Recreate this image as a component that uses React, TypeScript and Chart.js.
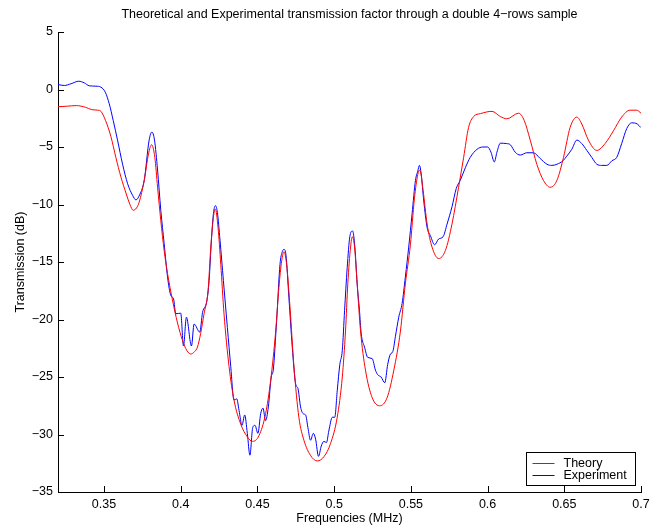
import React, { useEffect, useRef } from "react";
import { Chart, registerables } from "chart.js";
Chart.register(...registerables);

const titleText = "Theoretical and Experimental transmission factor through a double 4\u2212rows sample";
const xAxisTitle = "Frequencies (MHz)";
const yAxisTitle = "Transmission (dB)";
const seriesNames = ["Theory", "Experiment"];
const seriesColors = ["#ff0000", "#0000ff"];

const xTickValues = [0.35, 0.4, 0.45, 0.5, 0.55, 0.6, 0.65, 0.7];
const xTickLabels = ["0.35", "0.4", "0.45", "0.5", "0.55", "0.6", "0.65", "0.7"];
const yTickValues = [5, 0, -5, -10, -15, -20, -25, -30, -35];
const yTickLabels = ["5", "0", "\u22125", "\u221210", "\u221215", "\u221220", "\u221225", "\u221230", "\u221235"];

const theoryFreq = [
  0.32, 0.326, 0.332, 0.338, 0.342, 0.346, 0.348, 0.351, 0.3545, 0.3577, 0.361, 0.3643, 0.3669, 0.369, 0.3712,
  0.3729, 0.3762, 0.379, 0.381, 0.3831, 0.3849, 0.387, 0.3892, 0.3914, 0.3946, 0.3979, 0.4011, 0.404, 0.4065,
  0.409, 0.4109, 0.413, 0.4152, 0.4178, 0.4196, 0.4213, 0.4226, 0.4243, 0.4261, 0.4282, 0.4315, 0.4347, 0.4391,
  0.4434, 0.4467, 0.451, 0.4553, 0.4586, 0.4619, 0.464, 0.4658, 0.4673, 0.469, 0.4712, 0.4738, 0.477, 0.4803,
  0.4845, 0.489, 0.4935, 0.4976, 0.502, 0.5053, 0.5074, 0.5089, 0.5107, 0.5118, 0.5133, 0.515, 0.5172, 0.5204,
  0.5248, 0.5297, 0.5345, 0.5389, 0.5432, 0.5464, 0.5497, 0.5523, 0.5545, 0.5558, 0.558, 0.5606, 0.5638, 0.5681,
  0.5725, 0.5768, 0.5811, 0.5844, 0.5876, 0.5909, 0.5953, 0.6029, 0.6083, 0.6126, 0.6202, 0.6239, 0.6278, 0.6321,
  0.6364, 0.6408, 0.6452, 0.6495, 0.6538, 0.6582, 0.6614, 0.6657, 0.6712, 0.6766, 0.682, 0.6874, 0.6928, 0.6972, 0.7,
];
const theoryDb = [
  -1.5, -1.45, -1.4, -1.55, -1.75, -1.8, -1.9, -2.7, -4.1, -5.9, -7.6, -9.0, -10.0, -10.5, -10.3,
  -9.8, -7.9, -5.6, -4.8, -5.9, -8.5, -11.4, -14.0, -16.0, -18.3, -20.3, -21.8, -22.7, -23.0,
  -22.8, -22.4, -21.2, -19.5, -17.5, -13.7, -11.1, -10.4, -12.0, -15.2, -19.5, -24.1, -27.0, -29.1,
  -30.2, -30.6, -30.1, -28.2, -25.3, -21.0, -17.2, -14.9, -14.1, -15.2, -18.9, -24.1, -28.5, -30.5,
  -31.8, -32.3, -31.9, -30.8, -28.5, -25.0, -21.0, -16.9, -13.7, -12.8, -13.7, -16.9, -21.0, -24.4,
  -26.8, -27.5, -26.8, -24.4, -21.0, -16.9, -13.5, -9.5, -7.4, -7.0, -8.8, -11.7, -13.7, -14.7,
  -14.0, -11.7, -8.5, -5.9, -3.3, -2.35, -2.1, -1.9, -2.35, -2.55, -2.06, -2.7, -4.4, -6.5,
  -7.9, -8.5, -7.9, -5.9, -3.3, -2.4, -3.0, -4.4, -5.3, -4.7, -3.6, -2.4, -1.8, -1.8, -2.06,
];

const expFreq = [
  0.32, 0.3241, 0.3285, 0.3335, 0.3371, 0.3404, 0.3447, 0.348, 0.3508, 0.3534, 0.356, 0.3588, 0.3621, 0.3654,
  0.3686, 0.3708, 0.3734, 0.3762, 0.3794, 0.3812, 0.3829, 0.3849, 0.387, 0.3892, 0.3914, 0.3935, 0.3953, 0.3968,
  0.4, 0.4018, 0.4037, 0.407, 0.4087, 0.4124, 0.4142, 0.417, 0.4185, 0.42, 0.4213, 0.4226, 0.4239, 0.4256,
  0.4278, 0.4304, 0.4326, 0.4347, 0.4365, 0.438, 0.4399, 0.4417, 0.4434, 0.4451, 0.4469, 0.4484, 0.4503,
  0.4521, 0.4536, 0.4553, 0.4571, 0.459, 0.4603, 0.4625, 0.4647, 0.4662, 0.4673, 0.4686, 0.4705, 0.4727,
  0.4749, 0.4764, 0.4781, 0.4799, 0.4814, 0.4829, 0.4846, 0.4864, 0.4879, 0.4898, 0.4916, 0.4933, 0.495,
  0.4965, 0.4988, 0.5004, 0.502, 0.5037, 0.5053, 0.5068, 0.5085, 0.5102, 0.512, 0.5135, 0.515, 0.5165,
  0.5176, 0.5198, 0.5219, 0.5248, 0.5269, 0.5284, 0.5306, 0.533, 0.5349, 0.5367, 0.5382, 0.5399, 0.5421,
  0.5443, 0.5464, 0.5486, 0.5508, 0.553, 0.5545, 0.5556, 0.5567, 0.5584, 0.5606, 0.5627, 0.5655, 0.5681,
  0.571, 0.5736, 0.5768, 0.5796, 0.5822, 0.5855, 0.5887, 0.5931, 0.597, 0.6, 0.6022, 0.6044, 0.6061, 0.6083,
  0.6122, 0.6148, 0.618, 0.6213, 0.6256, 0.6299, 0.6343, 0.6387, 0.6419, 0.6452, 0.6491, 0.6516, 0.6549,
  0.6582, 0.6614, 0.6647, 0.6679, 0.6712, 0.6744, 0.6777, 0.681, 0.6842, 0.6874, 0.6907, 0.6939, 0.6976, 0.6998,
];
const expDb = [
  0.43, 0.35, 0.5, 0.72, 0.58, 0.32, 0.29, 0.2, -0.23, -1.24, -2.7, -4.4, -6.5, -8.2,
  -9.2, -9.6, -9.1, -7.9, -4.4, -3.7, -4.4, -7.0, -10.5, -13.4, -16.3, -17.9, -18.2, -19.5,
  -19.45, -22.3, -19.8, -22.3, -20.4, -21.1, -19.4, -18.4, -16.6, -13.1, -10.8, -10.1, -10.7, -13.1,
  -16.6, -20.7, -24.1, -27.0, -26.9, -27.9, -29.2, -28.3, -29.9, -31.8, -29.4, -29.2, -29.9,
  -28.2, -27.7, -28.8, -27.6, -25.0, -24.4, -20.1, -15.2, -14.1, -13.9, -14.4, -18.1, -22.4,
  -25.6, -26.0, -27.6, -28.2, -28.3, -29.4, -30.5, -29.9, -30.4, -31.9, -31.0, -30.6, -30.7,
  -29.7, -28.5, -28.5, -26.2, -23.9, -22.7, -19.2, -15.5, -12.8, -12.3, -13.7, -16.9, -19.2,
  -21.2, -22.4, -23.3, -23.4, -24.4, -24.8, -25.0, -25.5, -23.9, -23.0, -22.8, -21.5, -19.8,
  -18.6, -16.3, -13.7, -10.8, -7.9, -7.1, -6.6, -7.3, -9.7, -12.0, -12.7, -13.5, -13.0,
  -12.8, -11.7, -10.2, -8.6, -7.9, -6.8, -5.9, -5.2, -5.0, -5.0, -5.45, -6.3, -5.45, -4.67,
  -4.7, -4.8, -5.45, -5.7, -5.5, -5.5, -6.0, -6.5, -6.6, -6.5, -6.2, -5.8, -5.2,
  -4.4, -4.7, -5.3, -5.9, -6.5, -6.6, -6.6, -6.2, -5.9, -4.7, -3.4, -2.9, -3.0, -3.3,
];

const FONT = '"Liberation Sans", Arial, Helvetica, sans-serif';
const FSIZE = 12.5;

const matlabPlugin = {
  id: "matlabDecor",
  afterDraw(chart: any) {
    const { ctx, chartArea } = chart;
    const xs = chart.scales.x;
    const ys = chart.scales.y;
    ctx.save();
    ctx.strokeStyle = "#000";
    ctx.lineWidth = 1;
    ctx.beginPath();
    xTickValues.forEach((v) => {
      const px = Math.round(xs.getPixelForValue(v)) + 0.5;
      ctx.moveTo(px, chartArea.bottom);
      ctx.lineTo(px, chartArea.bottom - 6);
    });
    yTickValues.forEach((v) => {
      const py = Math.round(ys.getPixelForValue(v)) + 0.5;
      ctx.moveTo(chartArea.left, py);
      ctx.lineTo(chartArea.left + 6, py);
    });
    ctx.stroke();

    ctx.fillStyle = "#000";
    ctx.font = FSIZE + "px " + FONT;
    ctx.textAlign = "center";
    ctx.textBaseline = "middle";
    ctx.fillText(titleText, (chartArea.left + chartArea.right) / 2, 14.5);

    // legend box inside the axes, bottom-right
    const bw = 109;
    const bh = 33;
    const bx = Math.round(chartArea.right - 6 - bw) + 0.5;
    const by = Math.round(chartArea.bottom - 7 - bh) + 0.5;
    ctx.fillStyle = "#fff";
    ctx.fillRect(bx, by, bw, bh);
    ctx.strokeStyle = "#000";
    ctx.strokeRect(bx, by, bw, bh);
    seriesNames.forEach((name, i) => {
      const ly = Math.round(by + 10 + i * 12.5) + 0.5;
      ctx.strokeStyle = seriesColors[i];
      ctx.beginPath();
      ctx.moveTo(bx + 6, ly);
      ctx.lineTo(bx + 28, ly);
      ctx.stroke();
      ctx.fillStyle = "#000";
      ctx.textAlign = "left";
      ctx.fillText(name, bx + 37, ly);
    });
    ctx.restore();
  },
};

export default function App() {
  const canvasRef = useRef<HTMLCanvasElement>(null);

  useEffect(() => {
    if (!canvasRef.current) return;
    Chart.defaults.font.family = FONT;
    Chart.defaults.font.size = FSIZE;
    Chart.defaults.color = "#000";

    const chart = new Chart(canvasRef.current, {
      type: "line",
      data: {
        datasets: [
          {
            label: seriesNames[0],
            data: theoryFreq.map((f, i) => ({ x: f, y: theoryDb[i] })),
            borderColor: seriesColors[0],
            borderWidth: 1,
            pointRadius: 0,
            fill: false,
            cubicInterpolationMode: "monotone",
          },
          {
            label: seriesNames[1],
            data: expFreq.map((f, i) => ({ x: f, y: expDb[i] })),
            borderColor: seriesColors[1],
            borderWidth: 1,
            pointRadius: 0,
            fill: false,
            cubicInterpolationMode: "monotone",
          },
        ],
      },
      options: {
        animation: false,
        responsive: false,
        devicePixelRatio: 1,
        layout: { padding: { top: 32, right: 23, left: 0, bottom: 0 } },
        plugins: {
          legend: { display: false },
          tooltip: { enabled: false },
          title: { display: false },
        },
        scales: {
          x: {
            type: "linear",
            min: 0.32,
            max: 0.7,
            grid: { display: false, drawTicks: false },
            border: { display: true, color: "#000", width: 1 },
            afterBuildTicks: (s: any) => {
              s.ticks = xTickValues.map((v) => ({ value: v }));
            },
            afterFit: (s: any) => {
              s.height = 35;
            },
            ticks: {
              autoSkip: false,
              maxRotation: 0,
              padding: 5,
              color: "#000",
              font: { size: FSIZE },
              callback: (v: any) => xTickLabels[xTickValues.indexOf(v)] ?? "",
            },
            title: {
              display: true,
              text: xAxisTitle,
              color: "#000",
              font: { size: FSIZE },
              padding: { top: 0, bottom: 1 },
            },
          },
          y: {
            type: "linear",
            min: -35,
            max: 5,
            grid: { display: false, drawTicks: false },
            border: { display: true, color: "#000", width: 1 },
            afterBuildTicks: (s: any) => {
              s.ticks = yTickValues.map((v) => ({ value: v }));
            },
            afterFit: (s: any) => {
              s.width = 58;
            },
            ticks: {
              autoSkip: false,
              padding: 5,
              color: "#000",
              font: { size: FSIZE },
              callback: (v: any) => yTickLabels[yTickValues.indexOf(v)] ?? "",
            },
            title: {
              display: true,
              text: yAxisTitle,
              color: "#000",
              font: { size: FSIZE },
              padding: { top: 13, bottom: 0 },
            },
          },
        },
      },
      plugins: [matlabPlugin],
    });
    return () => chart.destroy();
  }, []);

  return (
    <div style={{ position: "fixed", left: 0, top: 0, width: 664, height: 527, background: "#fff" }}>
      <canvas ref={canvasRef} width={664} height={527} style={{ display: "block" }} />
    </div>
  );
}
